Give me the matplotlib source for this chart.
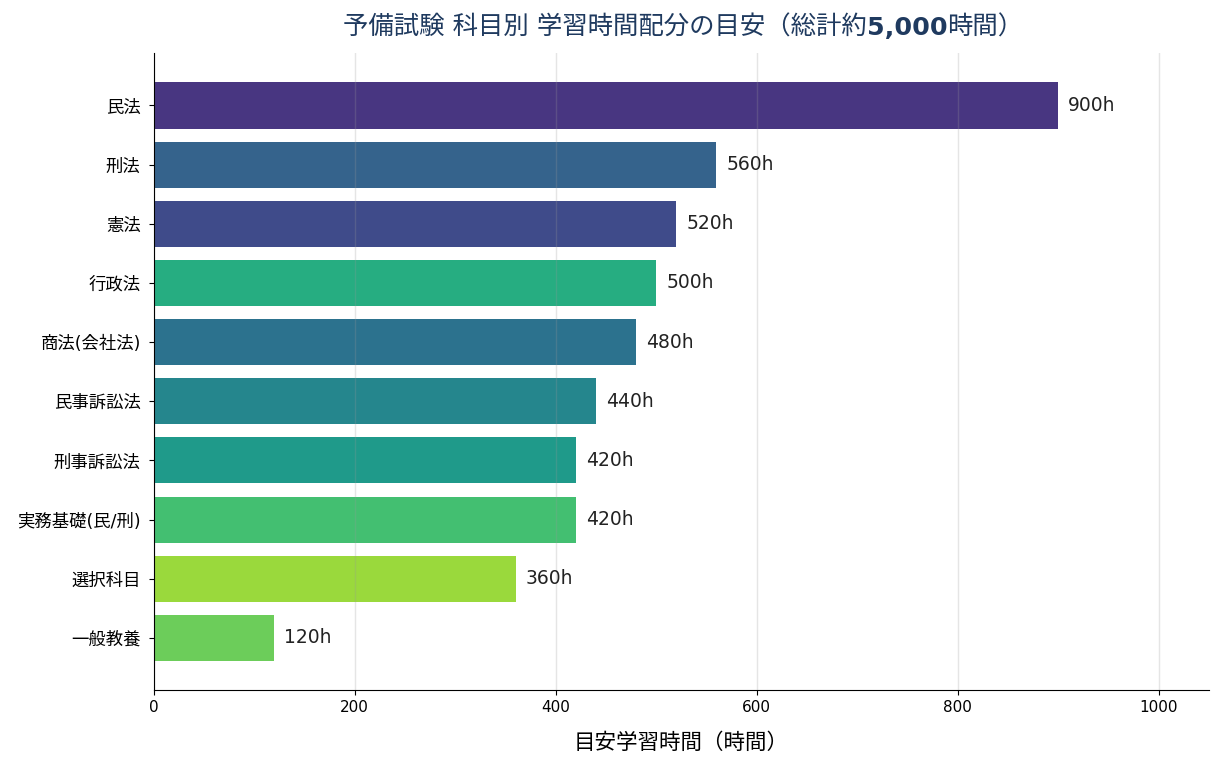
import numpy as np
import matplotlib
matplotlib.use("Agg")
from matplotlib import pyplot as plt

plt.rcParams['font.family'] = ['DejaVu Sans', 'Noto Sans CJK JP']

# Data
subjects = ['民法', '刑法', '憲法', '行政法', '商法(会社法)', '民事訴訟法',
            '刑事訴訟法', '実務基礎(民/刑)', '選択科目', '一般教養']
hours = [900, 560, 520, 500, 480, 440, 420, 420, 360, 120]
colors = ['#483681', '#35638c', '#3f4b8a', '#26ad81', '#2c728e',
          '#25868d', '#1f9a8a', '#43bf71', '#9ad93c', '#6ccd5a']
title_parts = ['予備試験 科目別 学習時間配分の目安（総計約', '5,000', '時間）']
title_weights = ['normal', 'bold', 'normal']

# Plotting
fig, ax = plt.subplots(figsize=(12.21, 7.64), dpi=100)

y = np.arange(len(subjects))
ax.barh(y, hours, height=0.78, color=colors, zorder=2)
ax.invert_yaxis()
ax.set_yticks(y)
ax.set_yticklabels(subjects, fontsize=12.5)
ax.tick_params(axis='x', labelsize=11)
ax.tick_params(axis='y', pad=6)

for i, h in enumerate(hours):
    ax.text(h + 10, y[i], f'{h}h', va='center', ha='left', fontsize=13.5, color='#222222')

ax.set_xlim(0, 1050)
ax.grid(axis='x', color='#999999', alpha=0.25, linewidth=1, zorder=3)
ax.set_axisbelow(False)
ax.spines['top'].set_visible(False)
ax.spines['right'].set_visible(False)
for s in ['left', 'bottom']:
    ax.spines[s].set_color('black')
    ax.spines[s].set_zorder(4)

ax.set_xlabel('目安学習時間（時間）', fontsize=15.5, labelpad=13)

# title: CJK in regular weight, the number in bold
prev = fig.text(0.281, 0.948, title_parts[0], fontsize=18.3, fontweight=title_weights[0],
                color='#1f3a5f', ha='left', va='bottom')
for part, w in zip(title_parts[1:], title_weights[1:]):
    prev = ax.annotate(part, xy=(1, 0), xycoords=prev, fontsize=18.3, fontweight=w,
                       color='#1f3a5f', ha='left', va='bottom')

plt.subplots_adjust(left=0.126, right=0.99, top=0.93, bottom=0.097)
plt.savefig('out.png', dpi=100)
